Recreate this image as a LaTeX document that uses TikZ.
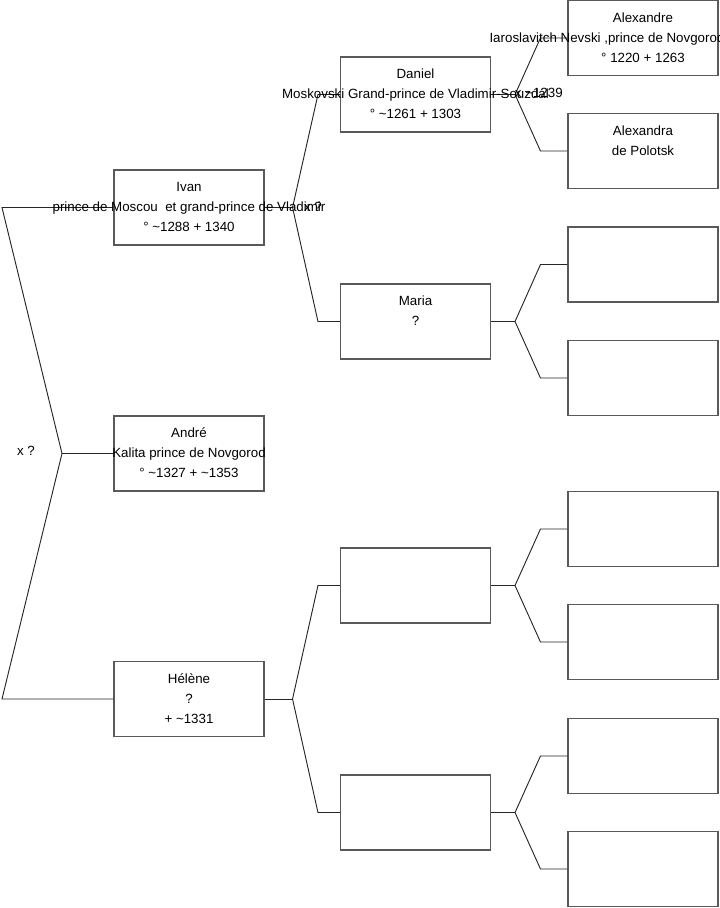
\documentclass[tikz,border=0pt]{standalone}
\usepackage{fontspec}
\setmainfont{Liberation Sans}
\usetikzlibrary{calc}
\begin{document}
\begin{tikzpicture}[x=0.75pt,y=-0.75pt,
  box/.style={draw=black!65,line width=0.8pt,minimum width=112.5pt,minimum height=56.25pt,inner sep=0pt},
  txt/.style={align=center,inner sep=0pt,font=\fontsize{10}{15}\selectfont},
  lbl/.style={inner sep=0pt,font=\fontsize{10}{15}\selectfont},
  conn/.style={draw=black!85,line width=0.7pt}]
\useasboundingbox (0,0) rectangle (719,908);
% level 1
\node[box] (ivan) at (189,207.5) {};
\node[box] (andre) at (189,453.5) {};
\node[box] (helene) at (189,699) {};
% level 2
\node[box] (daniel) at (415.5,94.5) {};
\node[box] (maria) at (415.5,321.5) {};
\node[box] (ba) at (415.5,585.5) {};
\node[box] (bb) at (415.5,812.5) {};
% level 3
\node[box] (c1) at (643,38) {};
\node[box] (c2) at (643,151) {};
\node[box] (c3) at (643,264.5) {};
\node[box] (c4) at (643,378) {};
\node[box] (c5) at (643,529) {};
\node[box] (c6) at (643,642) {};
\node[box] (c7) at (643,756) {};
\node[box] (c8) at (643,869) {};
% connectors root
\coordinate (r1) at (2,207.5);
\coordinate (r2) at (62,453.5);
\coordinate (r3) at (2,699);
\draw[conn] (ivan.west) -- (r1) -- (r2) -- (andre.west);
\draw[conn] (r2) -- (r3) -- (helene.west);
% level1 -> level2
\coordinate (fi) at ($(ivan.east)+(28,0)$);
\draw[conn] (ivan.east) -- (fi);
\draw[conn] (fi) -- ([xshift=-16.5pt]daniel.west) -- (daniel.west);
\draw[conn] (fi) -- ([xshift=-16.5pt]maria.west) -- (maria.west);
\coordinate (fh) at ($(helene.east)+(28,0)$);
\draw[conn] (helene.east) -- (fh);
\draw[conn] (fh) -- ([xshift=-16.5pt]ba.west) -- (ba.west);
\draw[conn] (fh) -- ([xshift=-16.5pt]bb.west) -- (bb.west);
% level2 -> level3
\foreach \p/\a/\b in {daniel/c1/c2, maria/c3/c4, ba/c5/c6, bb/c7/c8}{
  \coordinate (f\p) at ($(\p.east)+(24,0)$);
  \draw[conn] (\p.east) -- (f\p);
  \draw[conn] (f\p) -- ([xshift=-20.25pt]\a.west) -- (\a.west);
  \draw[conn] (f\p) -- ([xshift=-20.25pt]\b.west) -- (\b.west);
}
% texts
\node[txt] (tivan) at (ivan) {\strut Ivan\\prince de Moscou\ \ et grand-prince de Vladimir\\° \textasciitilde1288 + 1340\strut};
\node[txt] (tandre) at (andre) {\strut André\\Kalita prince de Novgorod\\° \textasciitilde1327 + \textasciitilde1353\strut};
\node[txt] (thelene) at (helene) {\strut Hélène\\?\\+ \textasciitilde1331\strut};
\node[txt] (tdaniel) at (daniel) {\strut Daniel\\Moskovski Grand-prince de Vladimir-Souzdal\\° \textasciitilde1261 + 1303\strut};
\node[txt] (tmaria) at (maria) {\strut Maria\\?\\\strut};
\node[txt] (tc1) at (c1) {\strut Alexandre\\Iaroslavitch Nevski ,prince de Novgorod\rule{54pt}{0pt}\\° 1220 + 1263\strut};
\node[txt] (tc2) at (c2) {\strut Alexandra\\de Polotsk\\\strut};
% marriage labels
\node[lbl] (x0) at (26,451) {x ?};
\node[lbl] (x1) at (313,207) {x ?};
\node[lbl,anchor=east] (x2) at (563,93) {x \textasciitilde1239};
\end{tikzpicture}
\end{document}
